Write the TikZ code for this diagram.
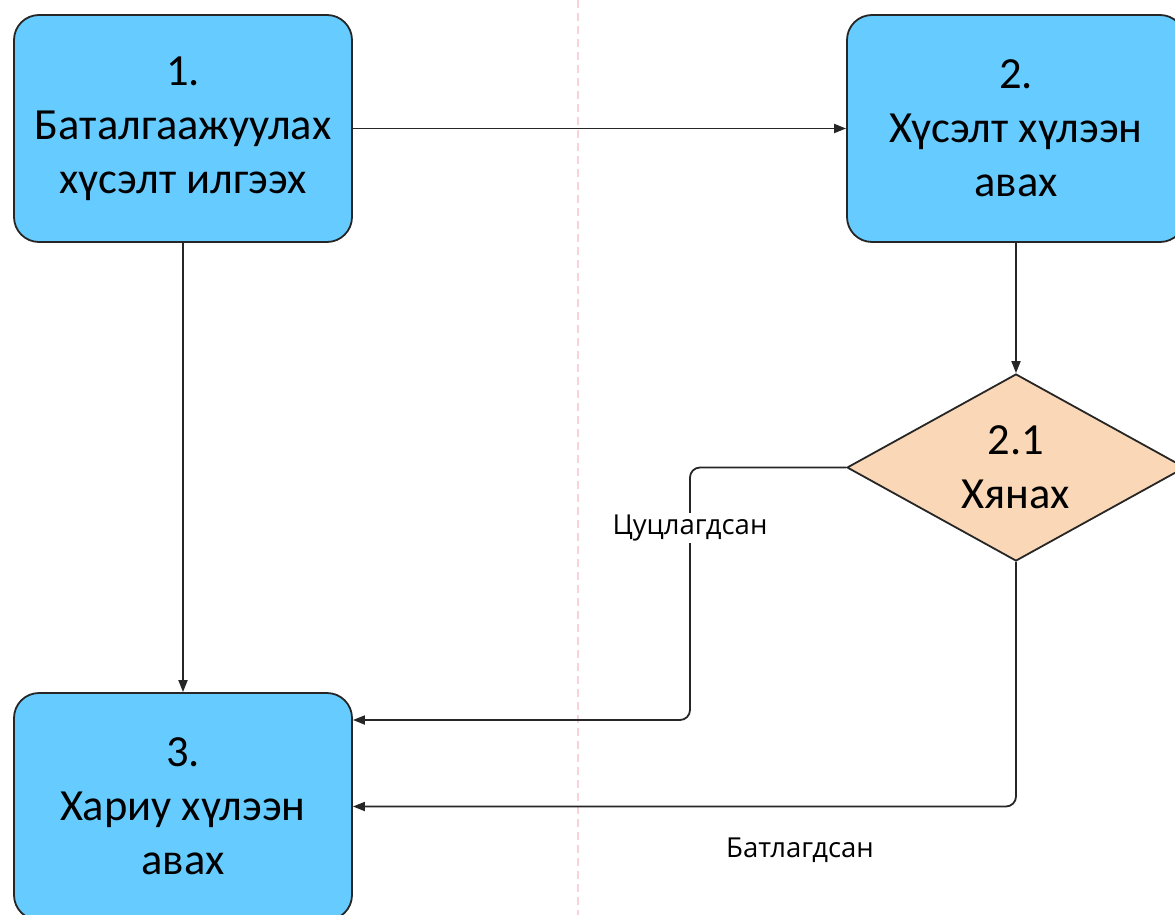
\documentclass[tikz,border=0pt]{standalone}
\usepackage{fontspec}
\setmainfont{Carlito}
\newfontfamily\labelfont{Open Sans}
\usetikzlibrary{shapes.geometric,arrows.meta}
\definecolor{boxblue}{RGB}{102,204,255}
\definecolor{peach}{RGB}{250,215,182}
\definecolor{lanepink}{RGB}{248,212,216}
\begin{document}
\begin{tikzpicture}[x=1pt,y=-1pt,
  procbox/.style={rectangle, rounded corners=25pt, draw=black!85, line width=1.8pt, fill=boxblue,
    minimum width=338pt, minimum height=227pt, align=center, inner sep=0pt,
    font=\fontsize{44.5}{54}\selectfont},
  decbox/.style={diamond, draw=black!85, line width=1.8pt, fill=peach, inner sep=0pt,
    minimum width=338pt, minimum height=187pt},
  boxtext/.style={align=center, inner sep=0pt, font=\fontsize{44.5}{54}\selectfont},
  flow/.style={line width=1.8pt, draw=black!85, -{Triangle[length=12pt,width=9pt]}, rounded corners=10pt},
  edgelabel/.style={font=\labelfont\fontsize{27.5}{32}\selectfont, inner sep=2pt}
]
\useasboundingbox (0,0) rectangle (1175,915);
\clip (0,0) rectangle (1175,915);
\draw[lanepink, line width=2pt, dash pattern=on 8pt off 5pt] (578,0) -- (578,915);

\node[procbox] (b1) at (183,128.5) {1.\\Баталгаажуулах\\хүсэлт илгээх};
\node[procbox] (b2) at (1016,128.5) {2.\\Хүсэлт хүлээн\\авах};
\node[procbox] (b3) at (183,806.5) {3.\\Хариу хүлээн\\авах};
\node[decbox] (d) at (1016,467.5) {};
\node[boxtext] (dt) at (d.center) {2.1\\Хянах};

\draw[flow] (b1.east) -- (b2.west);
\draw[flow] (b1.south) -- (b3.north);
\draw[flow] (b2.south) -- (d.north);
\coordinate (rj) at ([yshift=86.5pt]b3.east);
\draw[flow] (d.west) -- (690,467.5) |- (rj);
\draw[flow] (d.south) |- (b3.east);

\node[edgelabel, fill=white] (lr) at (690,528) {Цуцлагдсан};
\node[edgelabel] (la) at (800,850) {Батлагдсан};
\end{tikzpicture}
\end{document}
